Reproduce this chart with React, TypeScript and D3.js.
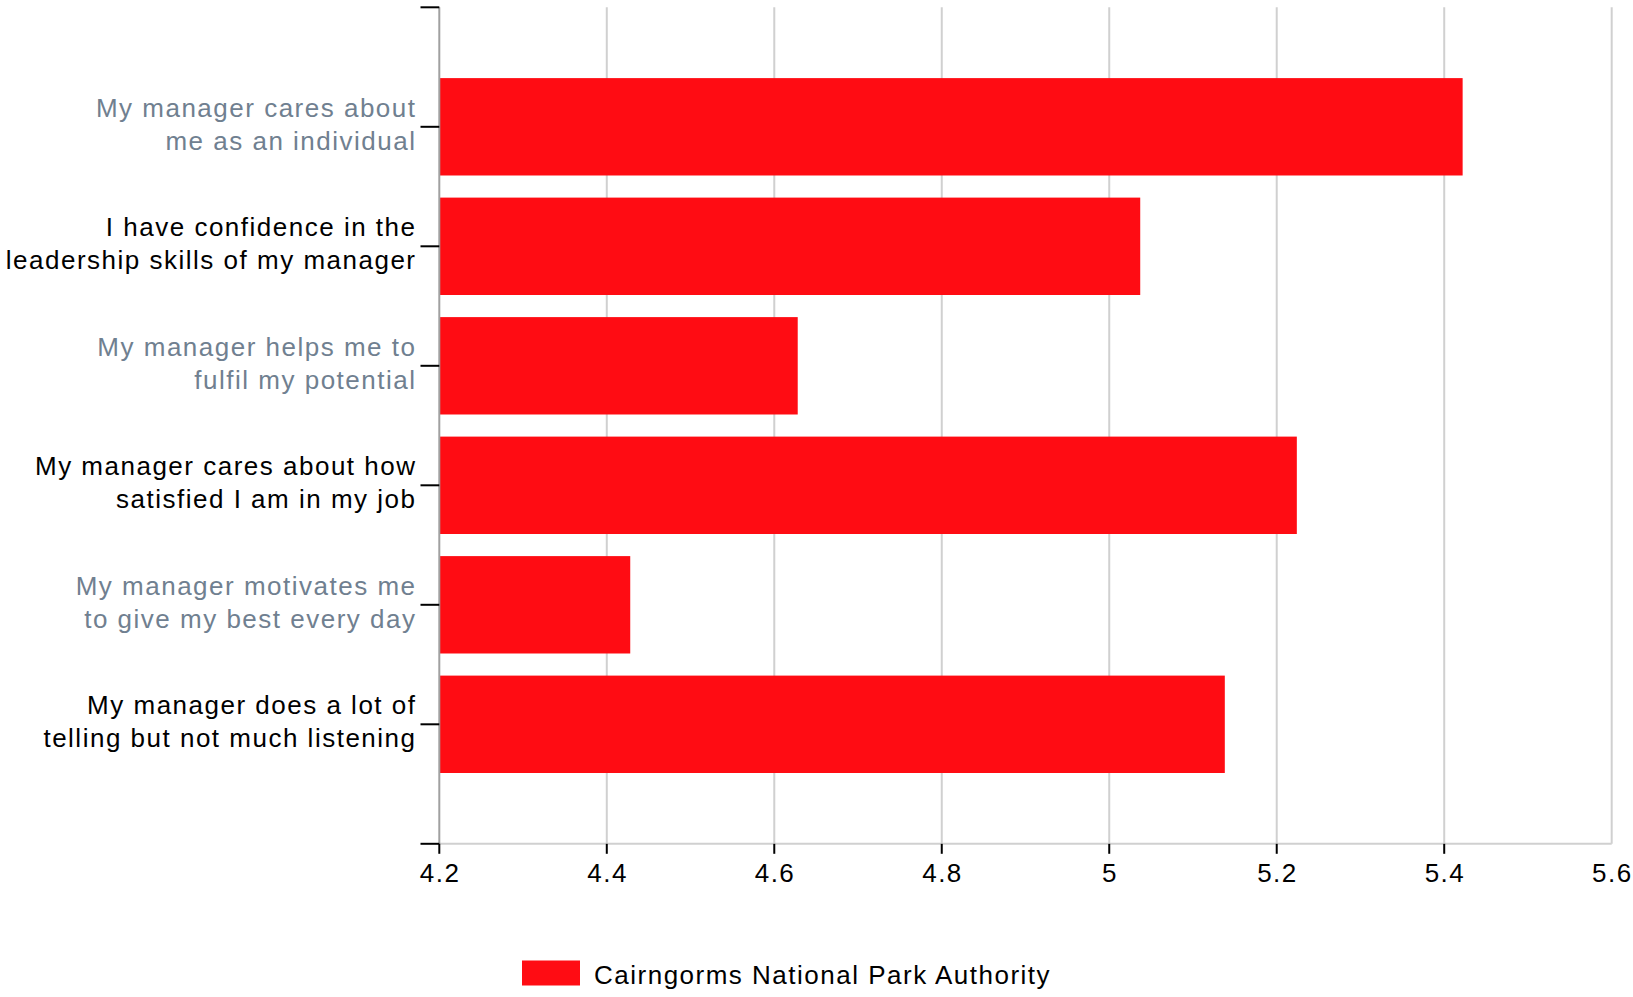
import React from "react";
import * as d3 from "d3";

const categories: string[][] = [
  ["My manager cares about", "me as an individual"],
  ["I have confidence in the", "leadership skills of my manager"],
  ["My manager helps me to", "fulfil my potential"],
  ["My manager cares about how", "satisfied I am in my job"],
  ["My manager motivates me", "to give my best every day"],
  ["My manager does a lot of", "telling but not much listening"],
];
const values: number[] = [5.422, 5.037, 4.628, 5.224, 4.428, 5.138];
const xTicks: number[] = [4.2, 4.4, 4.6, 4.8, 5.0, 5.2, 5.4, 5.6];
const xTickLabels: string[] = ["4.2", "4.4", "4.6", "4.8", "5", "5.2", "5.4", "5.6"];
const seriesName = "Cairngorms National Park Authority";

const W = 1633;
const H = 997;
const FONT = "'Liberation Sans', Arial, Helvetica, sans-serif";
const RED = "#ff0c13";
const GREY_TEXT = "#708090";
const LS = 1.5;

export default function App() {
  const x = d3.scaleLinear().domain([4.2, 5.6]).range([439.3, 1611.7]);
  const y = d3.scaleLinear().domain([0, categories.length + 1]).range([7.3, 843.8]);
  const unit = y(1) - y(0);
  const barH = unit * 0.815;
  const x0 = x(4.2);
  const yTop = y(0);
  const yBot = y(categories.length + 1);

  return (
    <svg
      width={W}
      height={H}
      style={{ position: "absolute", left: 0, top: 0, background: "#fff" }}
      fontFamily={FONT}
      letterSpacing={LS}
    >
      {/* gridlines */}
      {xTicks.slice(1).map((t) => (
        <line key={"g" + t} x1={x(t)} x2={x(t)} y1={yTop} y2={yBot} stroke="#d0d0d0" strokeWidth={2} />
      ))}
      {/* baseline */}
      <line x1={x0} x2={x(5.6)} y1={yBot} y2={yBot} stroke="#d0d0d0" strokeWidth={2} />

      {/* bars */}
      {values.map((v, i) => (
        <rect
          key={"b" + i}
          x={x0}
          y={y(i + 1) - barH / 2}
          width={x(v) - x0}
          height={barH}
          fill={RED}
        />
      ))}

      {/* y axis line */}
      <line x1={x0} x2={x0} y1={yTop} y2={yBot} stroke="#a0a0a0" strokeWidth={2} />

      {/* y ticks */}
      {d3.range(0, categories.length + 2).map((k) => (
        <line key={"yt" + k} x1={420.5} x2={x0} y1={y(k)} y2={y(k)} stroke="#000" strokeWidth={2} />
      ))}
      {/* x ticks */}
      {xTicks.slice(0, -1).map((t) => (
        <line key={"xt" + t} x1={x(t)} x2={x(t)} y1={yBot} y2={yBot + 10} stroke="#000" strokeWidth={2} />
      ))}
      {/* x tick labels */}
      {xTicks.map((t, i) => (
        <text key={"xl" + t} x={x(t) + LS / 2} y={881.7} textAnchor="middle" fontSize={26} fill="#000">
          {xTickLabels[i]}
        </text>
      ))}

      {/* category labels */}
      {categories.map((lines, i) => (
        <text
          key={"cl" + i}
          textAnchor="end"
          fontSize={26}
          fill={i % 2 === 0 ? GREY_TEXT : "#000"}
        >
          <tspan x={415 + LS} y={y(i + 1) - 10}>{lines[0]}</tspan>
          <tspan x={415 + LS} y={y(i + 1) + 23}>{lines[1]}</tspan>
        </text>
      ))}

      {/* legend */}
      <rect x={522} y={960.5} width={58} height={25} fill={RED} />
      <text x={594} y={984} fontSize={26} fill="#000">{seriesName}</text>
    </svg>
  );
}
